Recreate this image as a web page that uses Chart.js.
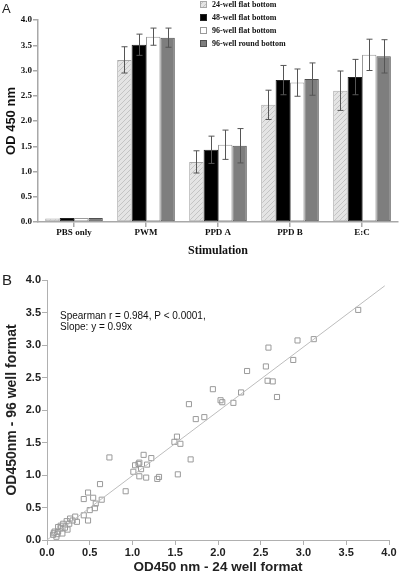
<!DOCTYPE html>
<html><head><meta charset="utf-8">
<script src="https://cdn.jsdelivr.net/npm/chart.js@4.4.0/dist/chart.umd.min.js"></script>
<style>
html,body{margin:0;padding:0;background:#fff;width:400px;height:575px;overflow:hidden;}
#a{position:absolute;left:0;top:0;}
#b{position:absolute;left:0;top:270px;}
.lbl{position:absolute;font-family:'Liberation Sans',Arial,sans-serif;color:#222;line-height:1;}
</style></head><body>
<canvas id="a" width="400" height="262"></canvas>
<canvas id="b" width="400" height="305"></canvas>
<div class="lbl" style="left:2px;top:2px;font-size:13px">A</div>
<div class="lbl" style="left:2px;top:272px;font-size:15px">B</div>
<script>
// ---------- Panel A data ----------
const categories = ['PBS only', 'PWM', 'PPD A', 'PPD B', 'E:C'];
const seriesNames = ['24-well flat bottom', '48-well flat bottom', '96-well flat bottom', '96-well round bottom'];
const well24Flat  = [0.07, 3.21, 1.19, 2.32, 2.60];
const well48Flat  = [0.08, 3.51, 1.43, 2.81, 2.87];
const well96Flat  = [0.08, 3.67, 1.53, 2.76, 3.31];
const well96Round = [0.08, 3.65, 1.51, 2.83, 3.28];
const err24Flat   = [0, 0.26, 0.22, 0.29, 0.39];
const err48Flat   = [0, 0.21, 0.27, 0.29, 0.35];
const err96Flat   = [0, 0.17, 0.29, 0.27, 0.31];
const err96Round  = [0, 0.19, 0.34, 0.32, 0.33];
const barTicks = [0, 0.5, 1, 1.5, 2, 2.5, 3, 3.5, 4];

// ---------- Panel B data ----------
const od24 = [3.64,3.12,2.93,2.59,2.88,2.34,2.56,2.58,2.64,2.69,1.94,2.27,2.03,2.05,2.18,1.84,1.74,1.66,1.52,1.49,1.56,1.13,1.22,1.68,0.73,1.07,1.03,1.17,1.10,1.01,1.08,1.16,1.31,1.29,1.53,0.62,0.92,0.48,0.43,0.54,0.64,0.57,0.56,0.50,0.48,0.43,0.33,0.35,0.27,0.23,0.26,0.19,0.21,0.24,0.16,0.13,0.09,0.12,0.07,0.11,0.18,0.13,1.08,0.16,0.08,0.30];
const od96 = [3.54,3.09,3.07,2.96,2.77,2.60,2.67,2.45,2.44,2.20,2.32,2.27,2.15,2.12,2.11,1.89,1.86,2.09,1.59,1.51,1.48,1.31,1.26,1.24,1.27,1.17,1.15,1.16,1.09,1.05,0.98,0.96,0.97,0.94,1.01,0.86,0.75,0.73,0.63,0.65,0.62,0.56,0.49,0.46,0.30,0.38,0.36,0.28,0.33,0.29,0.25,0.25,0.19,0.16,0.18,0.13,0.13,0.09,0.08,0.05,0.10,0.20,1.19,0.22,0.11,0.30];
const fitSlope = [0.99];
const fitRange = [0, 3.95];
const statsText = ['Spearman r = 0.984, P < 0.0001,', 'Slope: y = 0.99x'];
const scatterTicks = [0, 0.5, 1, 1.5, 2, 2.5, 3, 3.5, 4];

// hatch pattern for light bars
function hatch() {
  const c = document.createElement('canvas');
  c.width = 5; c.height = 5;
  const g = c.getContext('2d');
  g.fillStyle = '#e4e4e4'; g.fillRect(0, 0, 5, 5);
  g.strokeStyle = '#c4c4c4'; g.lineWidth = 1;
  g.beginPath(); g.moveTo(-1, 6); g.lineTo(6, -1); g.stroke();
  return g.createPattern(c, 'repeat');
}

const serif = "'Liberation Serif','Times New Roman',serif";
const sans = "'Liberation Sans',Arial,sans-serif";

const errors = [err24Flat, err48Flat, err96Flat, err96Round];
const values = [well24Flat, well48Flat, well96Flat, well96Round];
const fills = [hatch(), '#000000', '#ffffff', '#7e7e7e'];
const borders = ['#a8a8a8', '#222222', '#9a9a9a', '#505050'];

const errorBarPlugin = {
  id: 'errbars',
  afterDatasetsDraw(chart) {
    const ctx = chart.ctx, ys = chart.scales.y;
    ctx.save();
    ctx.strokeStyle = '#555'; ctx.lineWidth = 1;
    chart.data.datasets.forEach((ds, i) => {
      const meta = chart.getDatasetMeta(i);
      meta.data.forEach((bar, j) => {
        const e = errors[i][j];
        if (!e) return;
        const v = values[i][j];
        const x = Math.round(bar.x) + 0.5;
        const t = ys.getPixelForValue(v + e), b = ys.getPixelForValue(v - e);
        ctx.beginPath();
        ctx.moveTo(x, t); ctx.lineTo(x, b);
        ctx.moveTo(x - 3, t); ctx.lineTo(x + 3, t);
        ctx.moveTo(x - 3, b); ctx.lineTo(x + 3, b);
        ctx.stroke();
      });
    });
    ctx.restore();
  }
};

const legendPlugin = {
  id: 'customLegend',
  afterDraw(chart) {
    const ctx = chart.ctx;
    ctx.save();
    ctx.font = 'bold 8px ' + serif;
    ctx.textBaseline = 'middle';
    chart.data.datasets.forEach((ds, i) => {
      const y = 4.5 + i * 13;
      ctx.fillStyle = ds.backgroundColor;
      ctx.fillRect(200, y - 3.5, 7, 7);
      ctx.strokeStyle = ds.borderColor; ctx.lineWidth = 1;
      ctx.strokeRect(200.5, y - 3, 6, 6);
      ctx.fillStyle = '#111';
      ctx.fillText(ds.label, 212, y);
    });
    ctx.restore();
  }
};

new Chart(document.getElementById('a'), {
  type: 'bar',
  data: {
    labels: categories,
    datasets: values.map((v, i) => ({
      label: seriesNames[i], data: v,
      backgroundColor: fills[i], borderColor: borders[i], borderWidth: 1,
      borderSkipped: false,
      categoryPercentage: 0.8, barPercentage: 1.0
    }))
  },
  options: {
    responsive: false, animation: false, devicePixelRatio: 1,
    layout: { padding: { top: 20, right: 2, left: 0, bottom: 0 } },
    plugins: { legend: { display: false }, tooltip: { enabled: false } },
    scales: {
      x: {
        grid: { display: true, drawOnChartArea: false, offset: false, tickLength: 5, color: '#a8a8a8', lineWidth: 1.5 },
        border: { color: '#a8a8a8', width: 1.5 },
        ticks: { font: { family: serif, weight: 'bold', size: 9 }, color: '#111', padding: 0, maxRotation: 0 },
        title: { display: true, text: 'Stimulation', font: { family: serif, weight: 'bold', size: 12 }, color: '#111', padding: { top: 2, bottom: 4 } },
        afterFit: s => { s.height = 40; }
      },
      y: {
        min: 0, max: 4,
        afterBuildTicks: s => { s.ticks = barTicks.map(v => ({ value: v })); },
        ticks: { callback: v => Number(v).toFixed(1), font: { family: serif, weight: 'bold', size: 9 }, color: '#111', padding: 1 },
        grid: { drawOnChartArea: false, tickLength: 5, color: '#a8a8a8', lineWidth: 1.5 },
        border: { color: '#a8a8a8', width: 1.5 },
        title: { display: true, text: 'OD 450 nm', font: { family: sans, weight: 'bold', size: 13 }, color: '#111', padding: 4 },
        afterFit: s => { s.width = 38; }
      }
    }
  },
  plugins: [errorBarPlugin, legendPlugin]
});

const statsPlugin = {
  id: 'stats',
  afterDraw(chart) {
    const ctx = chart.ctx, a = chart.chartArea;
    ctx.save();
    ctx.font = '10px ' + sans;
    ctx.fillStyle = '#111';
    ctx.textBaseline = 'middle';
    statsText.forEach((t, i) => ctx.fillText(t, a.left + 13, a.top + 36 + i * 11.5));
    ctx.restore();
  }
};

new Chart(document.getElementById('b'), {
  type: 'scatter',
  data: {
    datasets: [
      {
        type: 'line', data: fitRange.map(x => ({ x: x, y: x * fitSlope[0] })),
        borderColor: '#bdbdbd', borderWidth: 1, pointRadius: 0, fill: false
      },
      {
        data: od24.map((x, i) => ({ x: x, y: od96[i] })),
        pointStyle: 'rect', radius: 3.6, borderColor: '#9a9a9a', borderWidth: 1,
        backgroundColor: 'rgba(255,255,255,0)'
      }
    ]
  },
  options: {
    responsive: false, animation: false, devicePixelRatio: 1,
    layout: { padding: { top: 10, right: 11, left: 0, bottom: 0 } },
    plugins: { legend: { display: false }, tooltip: { enabled: false } },
    scales: {
      x: {
        type: 'linear', min: 0, max: 4,
        afterBuildTicks: s => { s.ticks = scatterTicks.map(v => ({ value: v })); },
        ticks: { callback: v => Number(v).toFixed(1), font: { family: sans, weight: 'bold', size: 11 }, color: '#222', padding: 1, maxRotation: 0 },
        grid: { drawOnChartArea: false, tickLength: 5, color: '#b0b0b0' },
        border: { color: '#b0b0b0', width: 1 },
        title: { display: true, text: 'OD450 nm - 24 well format', font: { family: sans, weight: 'bold', size: 13.5 }, color: '#222', padding: { top: 0, bottom: 0 } },
        afterFit: s => { s.height = 35; }
      },
      y: {
        type: 'linear', min: 0, max: 4,
        afterBuildTicks: s => { s.ticks = scatterTicks.map(v => ({ value: v })); },
        ticks: { callback: v => Number(v).toFixed(1), font: { family: sans, weight: 'bold', size: 11 }, color: '#222', padding: 1 },
        grid: { drawOnChartArea: false, tickLength: 5, color: '#b0b0b0' },
        border: { color: '#b0b0b0', width: 1 },
        title: { display: true, text: 'OD450nm - 96 well format', font: { family: sans, weight: 'bold', size: 14 }, color: '#222', padding: 4 },
        afterFit: s => { s.width = 47; }
      }
    }
  },
  plugins: [statsPlugin]
});
</script>
</body></html>
